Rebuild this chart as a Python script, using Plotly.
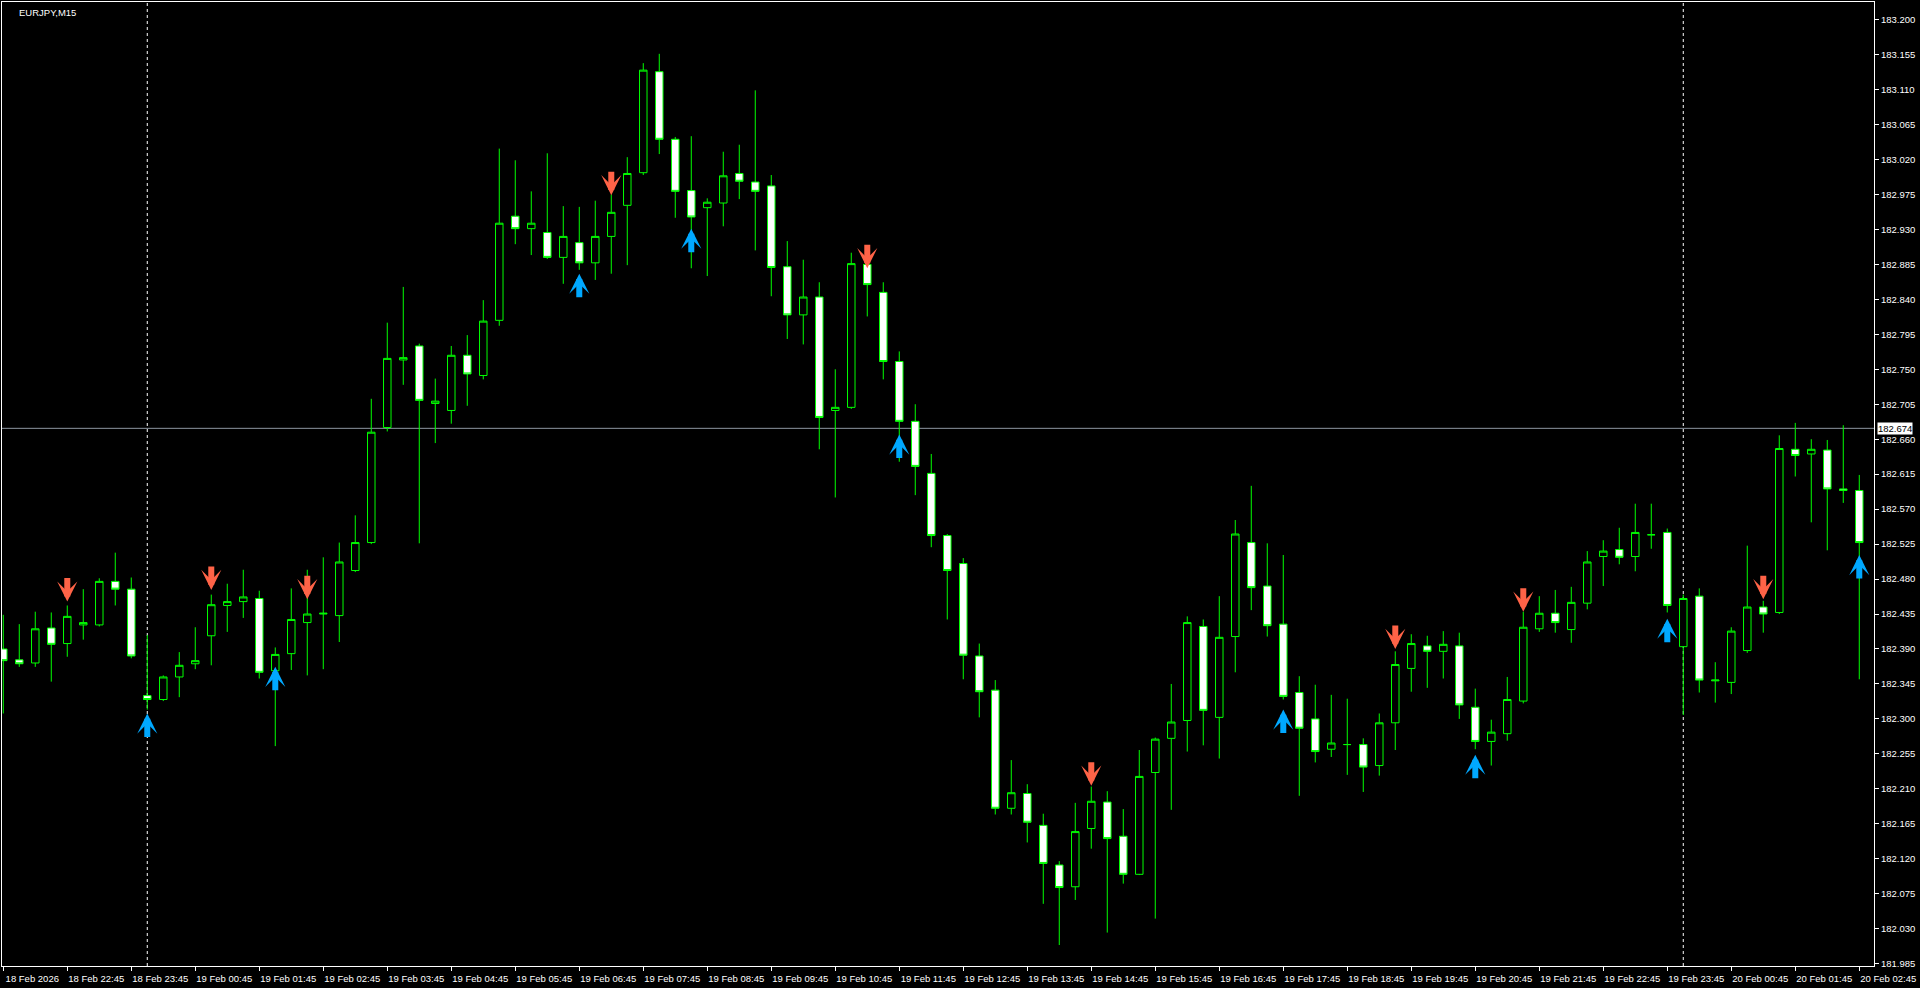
import plotly.graph_objects as go

# ---------------- data (EURJPY, M15) ----------------
symbol_label = "EURJPY,M15"

opens = [182.390, 182.376, 182.372, 182.417, 182.397, 182.421, 182.421, 182.477, 182.467, 182.330,
         182.325, 182.354, 182.371, 182.407, 182.446, 182.451, 182.455, 182.362, 182.384, 182.424,
         182.435, 182.433, 182.491, 182.527, 182.675, 182.762, 182.780, 182.706, 182.697, 182.768,
         182.742, 182.813, 182.947, 182.931, 182.926, 182.894, 182.913, 182.887, 182.921, 182.961,
         183.003, 183.133, 183.046, 182.980, 182.958, 182.964, 183.002, 182.991, 182.986, 182.882,
         182.820, 182.843, 182.697, 182.701, 182.885, 182.849, 182.760, 182.683, 182.616, 182.536,
         182.500, 182.381, 182.337, 182.185, 182.204, 182.163, 182.112, 182.084, 182.159, 182.193,
         182.149, 182.100, 182.231, 182.275, 182.298, 182.419, 182.302, 182.406, 182.527, 182.471,
         182.422, 182.334, 182.300, 182.261, 182.267, 182.267, 182.240, 182.295, 182.365, 182.394,
         182.387, 182.394, 182.315, 182.271, 182.281, 182.323, 182.416, 182.436, 182.415, 182.449,
         182.509, 182.518, 182.509, 182.537, 182.540, 182.393, 182.458, 182.349, 182.347, 182.388,
         182.444, 182.437, 182.647, 182.641, 182.646, 182.596, 182.594]
highs = [182.434, 182.422, 182.438, 182.437, 182.446, 182.467, 182.481, 182.514, 182.482, 182.408,
         182.356, 182.386, 182.418, 182.460, 182.474, 182.492, 182.465, 182.392, 182.468, 182.492,
         182.508, 182.527, 182.562, 182.712, 182.810, 182.856, 182.783, 182.738, 182.780, 182.794,
         182.839, 183.034, 183.019, 182.979, 183.028, 182.960, 182.959, 182.967, 182.975, 183.023,
         183.144, 183.156, 183.049, 183.050, 182.970, 183.030, 183.039, 183.109, 183.000, 182.915,
         182.891, 182.862, 182.750, 182.900, 182.893, 182.862, 182.773, 182.705, 182.641, 182.538,
         182.507, 182.397, 182.350, 182.247, 182.216, 182.178, 182.117, 182.192, 182.213, 182.207,
         182.184, 182.260, 182.276, 182.345, 182.432, 182.428, 182.458, 182.556, 182.600, 182.526,
         182.511, 182.355, 182.344, 182.331, 182.326, 182.275, 182.307, 182.387, 182.409, 182.407,
         182.413, 182.411, 182.339, 182.299, 182.354, 182.438, 182.458, 182.466, 182.470, 182.516,
         182.530, 182.546, 182.577, 182.577, 182.545, 182.460, 182.468, 182.373, 182.418, 182.523,
         182.452, 182.665, 182.681, 182.660, 182.659, 182.678, 182.614]
lows = [182.307, 182.367, 182.367, 182.348, 182.380, 182.402, 182.419, 182.446, 182.378, 182.312,
        182.323, 182.328, 182.364, 182.369, 182.412, 182.430, 182.352, 182.265, 182.363, 182.356,
        182.364, 182.399, 182.489, 182.525, 182.670, 182.730, 182.526, 182.655, 182.680, 182.703,
        182.737, 182.806, 182.911, 182.897, 182.892, 182.860, 182.878, 182.865, 182.873, 182.884,
        183.000, 183.027, 182.945, 182.880, 182.870, 182.934, 182.969, 182.903, 182.844, 182.789,
        182.782, 182.647, 182.585, 182.699, 182.818, 182.737, 182.631, 182.588, 182.521, 182.428,
        182.351, 182.302, 182.177, 182.177, 182.141, 182.062, 182.009, 182.067, 182.133, 182.025,
        182.088, 182.099, 182.043, 182.183, 182.258, 182.266, 182.249, 182.360, 182.440, 182.406,
        182.325, 182.201, 182.244, 182.251, 182.228, 182.206, 182.227, 182.260, 182.335, 182.340,
        182.352, 182.300, 182.261, 182.240, 182.272, 182.320, 182.412, 182.411, 182.398, 182.441,
        182.471, 182.499, 182.490, 182.519, 182.437, 182.305, 182.334, 182.321, 182.332, 182.385,
        182.411, 182.435, 182.612, 182.553, 182.517, 182.578, 182.351]
closes = [182.375, 182.371, 182.416, 182.396, 182.432, 182.424, 182.477, 182.467, 182.381, 182.325,
          182.354, 182.369, 182.375, 182.447, 182.451, 182.457, 182.360, 182.383, 182.428, 182.435,
          182.436, 182.502, 182.527, 182.669, 182.764, 182.765, 182.710, 182.709, 182.768, 182.744,
          182.812, 182.938, 182.931, 182.938, 182.894, 182.921, 182.887, 182.921, 182.952, 183.002,
          183.135, 183.046, 182.979, 182.946, 182.965, 182.999, 182.992, 182.979, 182.881, 182.820,
          182.843, 182.688, 182.701, 182.886, 182.859, 182.760, 182.683, 182.625, 182.536, 182.491,
          182.382, 182.335, 182.185, 182.205, 182.167, 182.114, 182.083, 182.155, 182.194, 182.146,
          182.100, 182.226, 182.274, 182.296, 182.424, 182.311, 182.405, 182.538, 182.469, 182.420,
          182.329, 182.288, 182.258, 182.269, 182.267, 182.238, 182.295, 182.370, 182.397, 182.387,
          182.396, 182.318, 182.271, 182.283, 182.325, 182.418, 182.436, 182.424, 182.450, 182.502,
          182.516, 182.508, 182.540, 182.537, 182.446, 182.455, 182.350, 182.350, 182.413, 182.444,
          182.435, 182.648, 182.639, 182.647, 182.596, 182.594, 182.527]
bar_index = list(range(len(opens)))

# signal arrows (bar index, price at arrow tip)
sell_bars = [4, 13, 19, 38, 54, 68, 87, 95, 110]
sell_prices = [182.451, 182.466, 182.454, 182.974, 182.880, 182.214, 182.390, 182.438, 182.454]
buy_bars = [9, 17, 36, 43, 56, 80, 92, 104, 116]
buy_prices = [182.307, 182.367, 182.873, 182.931, 182.666, 182.312, 182.254, 182.429, 182.511]

# time axis labels (every 4th bar)
time_tick_bars = list(range(0, 117, 4))
time_tick_labels = ["18 Feb 2026", "18 Feb 22:45", "18 Feb 23:45",
                    "19 Feb 00:45", "19 Feb 01:45", "19 Feb 02:45", "19 Feb 03:45", "19 Feb 04:45",
                    "19 Feb 05:45", "19 Feb 06:45", "19 Feb 07:45", "19 Feb 08:45", "19 Feb 09:45",
                    "19 Feb 10:45", "19 Feb 11:45", "19 Feb 12:45", "19 Feb 13:45", "19 Feb 14:45",
                    "19 Feb 15:45", "19 Feb 16:45", "19 Feb 17:45", "19 Feb 18:45", "19 Feb 19:45",
                    "19 Feb 20:45", "19 Feb 21:45", "19 Feb 22:45", "19 Feb 23:45",
                    "20 Feb 00:45", "20 Feb 01:45", "20 Feb 02:45"]

price_ticks = [181.985, 182.030, 182.075, 182.120, 182.165, 182.210, 182.255, 182.300, 182.345,
               182.390, 182.435, 182.480, 182.525, 182.570, 182.615, 182.660, 182.705, 182.750,
               182.795, 182.840, 182.885, 182.930, 182.975, 183.020, 183.065, 183.110, 183.155,
               183.200]
price_tick_labels = ["%.3f" % v for v in price_ticks]

day_separator_bars = [9, 105]
hline_price = 182.674
hline_label = "182.674"

# ---------------- figure ----------------
GREEN = "#00FF00"
FONT = "Liberation Sans"

fig = go.Figure()
fig.add_trace(go.Candlestick(
    x=bar_index, open=opens, high=highs, low=lows, close=closes,
    increasing=dict(line=dict(color=GREEN, width=1), fillcolor="#000000"),
    decreasing=dict(line=dict(color=GREEN, width=1), fillcolor="#FFFFFF"),
    whiskerwidth=0, hoverinfo="skip", showlegend=False,
))

shapes = []
for b in day_separator_bars:
    shapes.append(dict(type="line", xref="x", yref="paper", x0=b, x1=b, y0=0, y1=1,
                       line=dict(color="#FFFFFF", width=1, dash="dot"), layer="below"))
shapes.append(dict(type="line", xref="paper", yref="y", x0=0, x1=1, y0=hline_price, y1=hline_price,
                   line=dict(color="#8C96A0", width=1), layer="below"))

annotations = []
for b, p in zip(sell_bars, sell_prices):
    annotations.append(dict(x=b, y=p, xref="x", yref="y", text="", showarrow=True,
                            arrowhead=3, arrowsize=0.56, arrowwidth=6, arrowcolor="#FF6347",
                            ax=0, ay=-25))
for b, p in zip(buy_bars, buy_prices):
    annotations.append(dict(x=b, y=p, xref="x", yref="y", text="", showarrow=True,
                            arrowhead=3, arrowsize=0.56, arrowwidth=6, arrowcolor="#00A8FF",
                            ax=0, ay=25))
annotations.append(dict(x=0, y=1, xref="paper", yref="paper", xanchor="left", yanchor="top",
                        xshift=15, yshift=-3, text=symbol_label, showarrow=False,
                        font=dict(family=FONT, size=9.5, color="#FFFFFF")))
annotations.append(dict(x=1, y=hline_price, xref="paper", yref="y", xanchor="left", yanchor="middle",
                        xshift=3, text=hline_label, showarrow=False, bgcolor="#FFFFFF",
                        borderpad=0, font=dict(family=FONT, size=9.5, color="#000000")))

fig.update_layout(
    width=1920, height=988,
    margin=dict(l=2, r=46, t=2, b=22),
    paper_bgcolor="#000000", plot_bgcolor="#000000",
    showlegend=False, boxgap=0.33,
    shapes=shapes, annotations=annotations,
    font=dict(family=FONT, size=9.5, color="#FFFFFF"),
    xaxis=dict(range=[-0.08, 116.92], tickvals=time_tick_bars, ticktext=time_tick_labels,
               ticks="outside", ticklen=4, tickcolor="#FFFFFF", ticklabelshift=29,
               tickfont=dict(family=FONT, size=9.5, color="#FFFFFF"),
               showgrid=False, zeroline=False, showline=True, linecolor="#FFFFFF",
               linewidth=1, mirror=True, rangeslider=dict(visible=False), fixedrange=True),
    yaxis=dict(range=[181.982, 183.2227], side="right", tickvals=price_ticks,
               ticktext=price_tick_labels, ticks="outside", ticklen=4, tickcolor="#FFFFFF",
               tickfont=dict(family=FONT, size=9.5, color="#FFFFFF"),
               showgrid=False, zeroline=False, showline=True, linecolor="#FFFFFF",
               linewidth=1, mirror=True, fixedrange=True),
)

fig.write_html("out.html", config={"displayModeBar": False},
               post_script="document.body.style.margin='0';document.body.style.overflow='hidden';")
